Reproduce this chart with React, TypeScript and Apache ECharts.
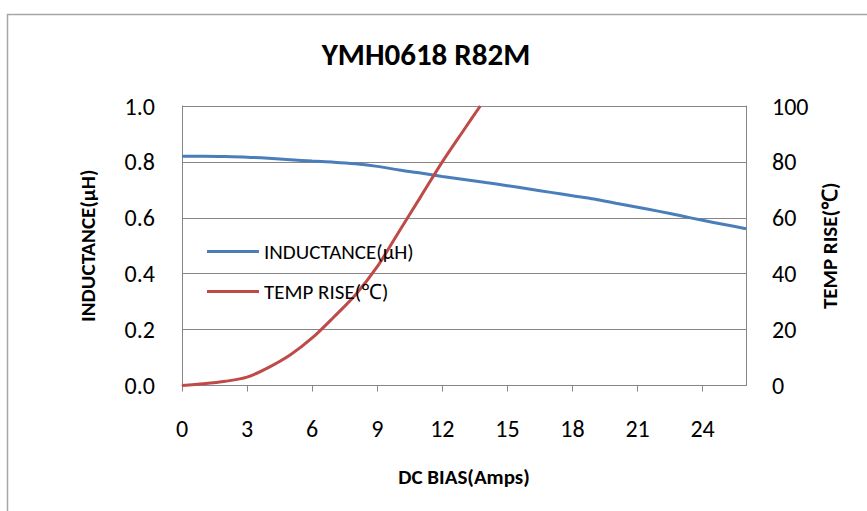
import React, { useEffect, useRef } from "react";
import * as echarts from "echarts";

const titleText = "YMH0618 R82M";
const xTickValues = [0, 3, 6, 9, 12, 15, 18, 21, 24];
const indX = [0, 1, 2, 3, 4, 5, 6, 7, 8, 9, 10, 11, 12, 13, 14, 15, 16, 17, 18, 19, 20, 21, 22, 23, 24, 25, 26];
const indValues = [0.82, 0.82, 0.819, 0.817, 0.813, 0.808, 0.803, 0.799, 0.793, 0.784, 0.771, 0.76, 0.748, 0.737, 0.726, 0.715, 0.703, 0.691, 0.679, 0.667, 0.652, 0.638, 0.623, 0.607, 0.591, 0.576, 0.561];
const tempX = [0, 1, 2, 3, 4, 5, 6, 7, 8, 9, 10, 11, 12, 13, 13.75];
const tempValues = [0, 0.6, 1.5, 3, 6.5, 11, 17, 24.5, 32.5, 42.5, 55, 67.5, 80, 91.5, 100];

const FONT = "Carlito, Lato, 'Open Sans', sans-serif";
const GRAY = "#868686";

export default function App() {
  const ref = useRef<HTMLDivElement>(null);
  useEffect(() => {
    if (!ref.current) return;
    const chart = echarts.init(ref.current, null, { renderer: "svg" });
    chart.setOption({
      animation: false,
      backgroundColor: "#ffffff",
      textStyle: { fontFamily: FONT },
      graphic: [
        {
          type: "rect",
          shape: { x: 7.5, y: 14.5, width: 900, height: 600 },
          style: { fill: "none", stroke: "#a6a6a6", lineWidth: 1.5 },
          silent: true,
        },
      ],
      title: {
        text: titleText,
        left: 421,
        textAlign: "center",
        top: 33,
        textStyle: { fontFamily: FONT, fontSize: 31, fontWeight: "bold", color: "#000" },
      },
      legend: {
        orient: "vertical",
        left: 207,
        top: 241,
        padding: 0,
        icon: "rect",
        itemWidth: 52,
        itemHeight: 3,
        itemGap: 19,
        textStyle: { fontFamily: FONT, fontSize: 21, color: "#000" },
        data: [
          { name: "INDUCTANCE(μH)", itemStyle: { color: "#4A7EBB" } },
          { name: "TEMP RISE(℃)", itemStyle: { color: "#BE4B48" } },
        ],
      },
      grid: { left: 182, right: 121, top: 106, bottom: 125.5, containLabel: false },
      xAxis: {
        type: "value",
        min: 0,
        max: 26,
        interval: 3,
        name: "DC BIAS(Amps)",
        nameLocation: "middle",
        nameGap: 81,
        nameTextStyle: { fontFamily: FONT, fontSize: 21, fontWeight: "bold", color: "#000" },
        axisLine: { show: true, lineStyle: { color: GRAY, width: 1 } },
        axisTick: { show: true, length: 6, lineStyle: { color: GRAY }, customValues: xTickValues },
        axisLabel: { fontFamily: FONT, fontSize: 24, color: "#000", margin: 31, customValues: xTickValues },
        splitLine: { show: false },
      },
      yAxis: [
        {
          type: "value",
          min: 0,
          max: 1,
          interval: 0.2,
          name: "INDUCTANCE(μH)",
          nameLocation: "middle",
          nameRotate: 90,
          nameGap: 84,
          nameTextStyle: { fontFamily: FONT, fontSize: 21, fontWeight: "bold", color: "#000" },
          axisLine: { show: true, lineStyle: { color: GRAY, width: 1 } },
          axisTick: { show: false },
          axisLabel: { fontFamily: FONT, fontSize: 24, color: "#000", margin: 27, formatter: (v: number) => v.toFixed(1) },
          splitLine: { show: true, lineStyle: { color: GRAY, width: 1 } },
        },
        {
          type: "value",
          min: 0,
          max: 100,
          interval: 20,
          position: "right",
          name: "TEMP RISE(℃)",
          nameLocation: "middle",
          nameRotate: 90,
          nameGap: 72,
          nameTextStyle: { fontFamily: FONT, fontSize: 21, fontWeight: "bold", color: "#000" },
          axisLine: { show: true, lineStyle: { color: GRAY, width: 1 } },
          axisTick: { show: false },
          axisLabel: { fontFamily: FONT, fontSize: 24, color: "#000", margin: 26 },
          splitLine: { show: false },
        },
      ],
      series: [
        {
          name: "INDUCTANCE(μH)",
          type: "line",
          yAxisIndex: 0,
          symbol: "none",
          smooth: 0.3,
          lineStyle: { color: "#4A7EBB", width: 3 },
          itemStyle: { color: "#4A7EBB" },
          data: indX.map((x, i) => [x, indValues[i]]),
        },
        {
          name: "TEMP RISE(℃)",
          type: "line",
          yAxisIndex: 1,
          symbol: "none",
          smooth: 0.3,
          lineStyle: { color: "#BE4B48", width: 3 },
          itemStyle: { color: "#BE4B48" },
          data: tempX.map((x, i) => [x, tempValues[i]]),
        },
      ],
    });
    return () => chart.dispose();
  }, []);
  return <div ref={ref} style={{ position: "fixed", left: 0, top: 0, width: 867, height: 511 }} />;
}
